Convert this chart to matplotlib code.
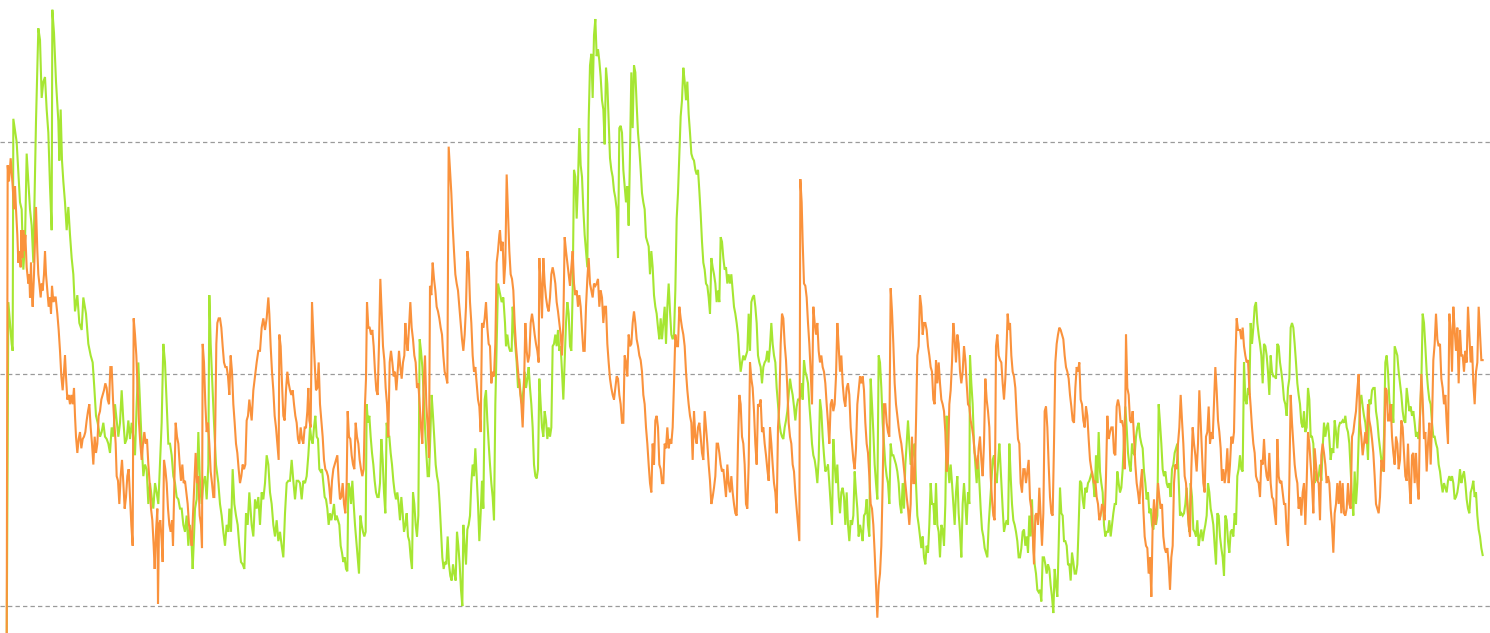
import matplotlib
matplotlib.use("Agg")
import matplotlib.pyplot as plt

# two series, values (time index, level); grid lines sit at 0, 100, 200
green_pts = [
    (20, -20), (25, 131), (30, 122), (35, 113), (38, 110), (40, 210), (50, 200), (60, 174), (65, 171),
    (70, 145), (75, 157), (80, 195), (85, 183), (90, 171), (95, 164), (100, 148), (108, 209), (115, 249),
    (120, 244), (125, 219), (130, 226), (135, 228), (140, 214), (145, 204), (150, 181), (155, 162),
    (157, 257), (162, 247), (168, 226), (175, 209), (178, 192), (182, 214), (186, 192), (190, 183),
    (195, 174), (200, 162), (205, 172), (210, 160), (215, 150), (220, 143), (225, 127), (232, 134),
    (238, 122), (245, 119), (250, 133), (258, 126), (265, 113), (272, 108), (278, 105), (283, 94),
    (288, 82), (293, 79), (300, 73), (305, 75), (310, 79), (315, 73), (320, 72), (325, 70), (330, 66),
    (335, 77), (340, 73), (345, 87), (350, 80), (355, 73), (360, 79), (365, 93), (370, 80), (375, 70),
    (380, 72), (385, 80), (390, 72), (395, 79), (400, 73), (405, 65), (410, 87), (415, 105), (420, 87),
    (425, 70), (430, 56), (435, 61), (440, 59), (445, 44), (450, 53), (455, 47), (460, 42), (465, 53),
    (470, 49), (475, 44), (480, 61), (485, 79), (490, 113), (495, 105), (500, 87), (505, 70), (510, 70),
    (515, 65), (520, 56), (525, 53), (530, 47), (535, 46), (540, 42), (545, 42), (550, 35), (555, 32),
    (560, 39), (565, 26), (570, 35), (575, 26), (578, 16), (582, 30), (585, 42), (590, 46), (595, 75),
    (600, 53), (605, 44), (610, 53), (615, 56), (620, 46), (625, 61), (628, 134), (632, 113), (637, 96),
    (642, 79), (648, 61), (655, 53), (660, 44), (665, 39), (670, 32), (675, 26), (680, 35), (685, 32),
    (688, 42), (693, 32), (698, 59), (703, 44), (708, 39), (713, 35), (718, 26), (723, 19), (728, 18),
    (733, 16), (738, 40), (743, 35), (748, 49),
    (755, 35), (760, 30), (765, 46), (770, 42), (775, 47), (780, 35), (785, 49), (790, 46), (795, 53),
    (800, 65), (805, 61), (810, 49), (815, 44), (820, 35), (825, 30), (830, 37), (835, 28), (840, 32),
    (845, 26), (850, 21), (855, 40), (860, 53), (865, 54), (870, 54), (875, 63), (880, 54), (885, 46),
    (890, 54), (895, 54), (900, 53), (905, 46), (910, 54), (915, 53), (920, 56), (925, 65), (930, 77),
    (934, 72), (938, 70), (942, 77), (946, 82), (950, 73), (954, 72), (958, 59), (962, 58), (966, 59),
    (970, 53), (974, 47), (978, 46), (982, 42), (986, 35), (990, 40), (994, 37), (998, 40), (1002, 44),
    (1006, 37), (1010, 39), (1014, 37), (1018, 35), (1022, 26), (1026, 23), (1030, 19), (1034, 21),
    (1038, 16), (1042, 15), (1045, 53), (1049, 51), (1053, 44), (1057, 54), (1061, 44), (1065, 35),
    (1069, 28), (1073, 21), (1077, 14), (1081, 39), (1085, 35), (1089, 32), (1093, 30), (1097, 32),
    (1100, 87), (1104, 79), (1108, 82), (1112, 73), (1116, 66), (1120, 61), (1124, 54), (1128, 49),
    (1132, 47), (1136, 47), (1140, 53), (1144, 72), (1148, 63), (1152, 49), (1156, 40), (1160, 79),
    (1164, 73), (1168, 73), (1172, 66), (1176, 61), (1180, 54), (1184, 49), (1188, 46), (1192, 49),
    (1196, 44), (1200, 37), (1204, 47), (1208, 40), (1212, 32), (1216, 35), (1220, 40), (1224, 30),
    (1228, 28), (1232, 21), (1236, 16), (1239, 49), (1243, 44), (1247, 35), (1251, 30), (1255, 39),
    (1259, 115), (1263, 110), (1267, 103), (1271, 91), (1275, 77), (1279, 66), (1283, 56), (1287, 56),
    (1291, 73), (1295, 91), (1299, 82), (1303, 72), (1307, 61), (1311, 56), (1315, 53), (1319, 44),
    (1323, 32), (1327, 21), (1331, 16), (1335, 19), (1339, 18), (1343, 30), (1347, 18), (1351, 13),
    (1355, 11), (1359, 18), (1363, 14), (1367, 11), (1371, 32), (1375, 26), (1379, 18), (1383, 7),
    (1387, 0), (1390, 35), (1394, 26), (1398, 18), (1402, 33), (1406, 35), (1410, 39), (1414, 53),
    (1418, 61), (1422, 56), (1426, 68), (1430, 56), (1434, 44), (1438, 28), (1442, 40), (1446, 54),
    (1450, 42), (1454, 89), (1458, 93), (1462, 80), (1466, 70), (1470, 61), (1474, 53), (1478, 47),
    (1482, 37), (1486, 87), (1490, 113), (1494, 139), (1498, 136),
    (1505, 131), (1510, 133), (1515, 122), (1518, 112), (1522, 117), (1526, 112), (1530, 110),
    (1535, 110), (1538, 129), (1542, 119), (1546, 112), (1550, 105), (1554, 94), (1558, 98), (1562, 91),
    (1566, 87), (1570, 93), (1574, 101), (1578, 94), (1582, 98), (1586, 103), (1590, 94), (1594, 87),
    (1598, 77), (1602, 61), (1606, 56), (1610, 55), (1614, 59), (1618, 98), (1622, 87), (1626, 77),
    (1630, 73), (1634, 84), (1638, 80), (1642, 72), (1646, 77), (1650, 73), (1654, 77), (1658, 112),
    (1662, 113), (1666, 117), (1670, 112), (1674, 119), (1678, 110), (1682, 112), (1686, 101),
    (1690, 89), (1694, 105), (1698, 122), (1702, 131), (1706, 126), (1710, 112), (1714, 110),
    (1718, 136), (1722, 188), (1726, 185), (1730, 167), (1734, 183), (1738, 206), (1742, 190),
    (1746, 185), (1750, 171), (1754, 160), (1758, 153), (1762, 146), (1766, 209), (1770, 233),
    (1774, 238), (1778, 219), (1782, 246), (1786, 253), (1790, 237), (1794, 240), (1798, 235),
    (1802, 228), (1806, 218), (1810, 214), (1814, 199), (1818, 232), (1822, 225), (1826, 209),
    (1830, 193), (1834, 188), (1838, 185), (1842, 179), (1846, 176), (1850, 171), (1854, 150),
    (1858, 206), (1862, 207), (1866, 204), (1870, 188), (1874, 181), (1878, 174), (1882, 181),
    (1886, 164), (1890, 195), (1894, 230), (1898, 206), (1902, 233), (1906, 230), (1910, 216),
    (1914, 204), (1918, 197), (1922, 188), (1926, 178), (1930, 174), (1934, 171), (1938, 159),
    (1942, 157), (1946, 155), (1950, 143), (1954, 153), (1958, 146), (1962, 134), (1966, 129),
    (1970, 126), (1974, 120), (1978, 115), (1982, 124), (1986, 115), (1990, 122), (1994, 129),
    (1998, 113), (2002, 129), (2006, 139), (2010, 127), (2014, 117), (2018, 115), (2022, 117),
    (2026, 136), (2030, 167), (2034, 178), (2038, 195), (2042, 211), (2046, 218), (2050, 232),
    (2054, 226), (2058, 218), (2062, 226), (2066, 212), (2070, 204), (2074, 195), (2078, 193),
    (2082, 192), (2086, 188), (2090, 186), (2094, 188), (2098, 179), (2102, 169), (2106, 157),
    (2110, 148), (2114, 145), (2118, 139), (2122, 138), (2126, 133), (2130, 126), (2134, 150),
    (2138, 146), (2142, 143), (2146, 139), (2150, 131), (2154, 136), (2158, 131), (2162, 159),
    (2166, 157), (2170, 150), (2174, 145), (2178, 146), (2182, 139), (2186, 143), (2190, 139),
    (2194, 143), (2198, 136), (2202, 129), (2206, 126), (2210, 122), (2214, 117), (2218, 108),
    (2222, 101), (2226, 105), (2230, 108), (2234, 106), (2238, 108), (2242, 110), (2246, 126),
    (2250, 110), (2254, 131), (2258, 133), (2262, 134), (2266, 129), (2270, 122), (2274, 108),
    (2278, 105), (2282, 103), (2286, 96), (2290, 103), (2294, 105), (2298, 106), (2302, 110),
    (2306, 105), (2310, 112), (2314, 122), (2318, 113), (2322, 108), (2326, 105), (2330, 94),
    (2334, 87), (2338, 79), (2342, 75), (2346, 73), (2350, 72), (2354, 77), (2358, 80), (2362, 84),
    (2366, 91), (2370, 98), (2374, 94), (2378, 91), (2382, 86), (2386, 80), (2390, 86), (2394, 89),
    (2398, 89), (2402, 91), (2406, 96), (2408, 89), (2412, 106), (2416, 101), (2420, 99), (2424, 96),
    (2428, 87), (2432, 79), (2436, 70), (2440, 65), (2444, 63), (2448, 59), (2452, 53), (2456, 63),
    (2460, 89), (2464, 84), (2468, 73), (2472, 65), (2476, 58), (2480, 59), (2484, 61), (2488, 53),
    (2492, 44), (2496, 35), (2500, 72), (2504, 61), (2508, 53), (2512, 61), (2516, 47), (2520, 40),
    (2524, 49), (2528, 51), (2532, 47), (2536, 35), (2540, 49), (2544, 35), (2548, 28), (2552, 37),
    (2556, 35), (2560, 39), (2564, 58), (2568, 49), (2572, 42), (2576, 30), (2580, 35), (2584, 32),
    (2588, 28), (2592, 39), (2596, 40), (2600, 46), (2604, 35), (2608, 30), (2612, 98), (2616, 87),
    (2620, 75), (2624, 61), (2628, 53), (2632, 46), (2636, 108), (2640, 105), (2644, 94), (2648, 79),
    (2652, 70), (2656, 61), (2660, 56), (2664, 53), (2668, 44), (2672, 70), (2676, 65), (2680, 65),
    (2684, 63), (2688, 61), (2692, 58), (2696, 53), (2700, 44), (2704, 40), (2708, 53), (2712, 42),
    (2716, 61), (2720, 70), (2724, 80), (2728, 70), (2732, 61), (2736, 63), (2740, 66), (2744, 70),
    (2748, 53), (2752, 39), (2756, 35), (2760, 30), (2764, 25), (2768, 30), (2772, 21), (2776, 18),
    (2780, 26), (2784, 23), (2788, 35), (2792, 53), (2796, 44), (2800, 44), (2804, 35), (2808, 53),
    (2812, 35), (2816, 32), (2820, 21), (2824, 35), (2828, 33), (2832, 26), (2836, 44), (2840, 82),
    (2844, 61), (2848, 53), (2852, 61), (2856, 53), (2860, 44), (2864, 35), (2868, 49), (2872, 56),
    (2876, 40), (2880, 32), (2884, 21), (2888, 44), (2892, 53), (2896, 44), (2900, 35), (2904, 49),
    (2908, 44), (2910, 108), (2914, 96), (2918, 87), (2922, 70), (2926, 61), (2930, 53), (2934, 65),
    (2938, 53), (2942, 42), (2946, 33), (2950, 30), (2954, 25), (2958, 23), (2962, 21), (2966, 35),
    (2970, 44), (2974, 53), (2978, 63), (2982, 65), (2986, 56), (2990, 53), (2994, 61), (2998, 70),
    (3000, 65), (3004, 53), (3008, 42), (3012, 32), (3016, 35), (3020, 37), (3024, 35), (3028, 70),
    (3032, 56), (3036, 44), (3040, 37), (3044, 35), (3048, 32), (3052, 28), (3056, 21), (3060, 21),
    (3064, 25), (3068, 32), (3072, 33), (3076, 26), (3080, 30), (3084, 23), (3088, 39), (3092, 30),
    (3096, 46), (3100, 26), (3104, 18), (3108, 14), (3112, 7), (3116, 6), (3120, 7), (3124, 2),
    (3128, 21), (3132, 21), (3136, 18), (3140, 14), (3144, 18), (3148, 16), (3152, 9), (3156, 4),
    (3160, -3), (3164, 16), (3168, 9), (3172, 4), (3176, 26), (3180, 51), (3184, 40), (3188, 39),
    (3192, 28), (3196, 28), (3200, 26), (3204, 18), (3208, 18), (3212, 11), (3216, 23), (3220, 19),
    (3224, 14), (3228, 14), (3232, 18), (3236, 35), (3240, 54), (3244, 53), (3248, 46), (3252, 42),
    (3256, 51), (3260, 49), (3264, 53), (3268, 54), (3272, 56), (3276, 58), (3280, 53), (3284, 47),
    (3288, 65), (3292, 53), (3296, 75), (3300, 58), (3304, 53), (3308, 49), (3312, 35), (3316, 30),
    (3320, 32), (3324, 32), (3328, 37), (3332, 30), (3336, 35), (3340, 40), (3344, 44), (3348, 44),
    (3352, 58), (3356, 53), (3360, 49), (3364, 51), (3368, 59), (3372, 73), (3376, 86), (3380, 77),
    (3384, 66), (3388, 61), (3392, 58), (3396, 70), (3400, 66), (3404, 65), (3408, 73), (3412, 77),
    (3416, 79), (3420, 73), (3424, 70), (3428, 68), (3432, 58), (3436, 53), (3440, 46), (3444, 49),
    (3448, 40), (3452, 42), (3456, 35), (3460, 33), (3464, 39), (3468, 35), (3472, 39), (3476, 87),
    (3480, 79), (3484, 70), (3488, 59), (3492, 56), (3496, 58), (3500, 53), (3504, 51), (3508, 53),
    (3512, 47), (3516, 59), (3520, 61), (3524, 66), (3528, 68), (3532, 70), (3536, 54), (3540, 39),
    (3544, 40), (3548, 39), (3552, 40), (3556, 44), (3560, 51), (3564, 39), (3568, 32), (3572, 53),
    (3576, 47), (3580, 33), (3584, 32), (3588, 30), (3592, 37), (3596, 26), (3600, 30), (3604, 33),
    (3608, 28), (3612, 32), (3616, 35), (3620, 39), (3624, 53), (3628, 49), (3632, 42), (3636, 39),
    (3640, 35), (3644, 26), (3648, 18), (3652, 40), (3656, 39), (3660, 30), (3664, 25), (3668, 21),
    (3672, 13), (3676, 39), (3680, 37), (3684, 28), (3688, 23), (3692, 32), (3696, 33), (3700, 30),
    (3704, 40), (3708, 35), (3712, 56), (3716, 59),
    (3720, 65), (3724, 59), (3728, 58), (3732, 105), (3736, 89), (3740, 87), (3744, 94), (3748, 91),
    (3752, 122), (3756, 113), (3760, 120), (3764, 129), (3768, 131), (3772, 122), (3776, 117),
    (3780, 113), (3784, 108), (3788, 96), (3792, 113), (3796, 112), (3800, 108), (3804, 101),
    (3808, 91), (3812, 108), (3816, 101), (3820, 99), (3824, 99), (3828, 98), (3832, 113), (3836, 112),
    (3840, 105), (3844, 101), (3848, 96), (3852, 89), (3856, 87), (3860, 82), (3864, 94), (3868, 98),
    (3872, 120), (3876, 122), (3880, 120), (3884, 113), (3888, 105), (3892, 96), (3896, 91), (3900, 87),
    (3904, 79), (3908, 77), (3912, 84), (3916, 75), (3920, 77), (3924, 94), (3928, 89), (3932, 73),
    (3936, 73), (3940, 70), (3944, 53), (3948, 58), (3952, 54), (3956, 56), (3960, 61), (3964, 54),
    (3968, 68), (3972, 79), (3976, 73), (3980, 77), (3984, 79), (3988, 72), (3992, 63), (3996, 68),
    (4000, 66), (4004, 80), (4008, 75), (4012, 68), (4016, 77), (4020, 79), (4024, 79), (4028, 80),
    (4032, 79), (4036, 82), (4040, 77), (4044, 75), (4048, 70), (4052, 58), (4056, 47), (4060, 39),
    (4064, 58), (4068, 44), (4072, 53), (4076, 72), (4080, 87), (4084, 91), (4088, 86), (4092, 82),
    (4096, 79), (4100, 73), (4104, 63), (4108, 89), (4112, 87), (4116, 93), (4120, 94), (4124, 94),
    (4128, 84), (4132, 80), (4136, 73), (4140, 68), (4144, 63), (4148, 58), (4152, 73), (4156, 105),
    (4160, 108), (4164, 101), (4168, 89), (4172, 82), (4176, 87), (4180, 79), (4184, 112), (4188, 110),
    (4192, 108), (4196, 101), (4200, 96), (4204, 91), (4208, 84), (4212, 80), (4216, 79), (4220, 94),
    (4224, 89), (4228, 84), (4232, 86), (4236, 82), (4240, 84), (4244, 79), (4248, 73), (4252, 75),
    (4256, 72), (4260, 82), (4264, 96), (4268, 126), (4272, 122), (4276, 112), (4280, 101), (4284, 94),
    (4288, 89), (4292, 87), (4296, 79), (4300, 73), (4304, 73), (4308, 70), (4312, 68), (4316, 61),
    (4320, 58), (4324, 53), (4328, 49), (4332, 53), (4336, 51), (4340, 49), (4344, 54), (4348, 56),
    (4352, 54), (4356, 56), (4360, 53), (4364, 46), (4368, 47), (4372, 49), (4376, 53), (4380, 59),
    (4384, 53), (4388, 56), (4392, 58), (4396, 53), (4400, 46), (4404, 42), (4408, 40), (4412, 49),
    (4416, 51), (4420, 54), (4424, 47), (4428, 49), (4432, 39), (4436, 33), (4440, 30), (4444, 25),
    (4448, 22),
]

orange_pts = [
    (20, -20), (23, 190), (27, 183), (32, 193), (38, 181), (42, 171), (45, 181), (48, 171), (52, 160),
    (55, 148), (58, 153), (62, 146), (64, 162), (67, 150), (70, 162), (73, 153), (76, 160), (80, 146),
    (85, 139), (88, 143), (90, 133), (93, 148), (95, 136), (98, 129), (102, 143), (105, 157), (108, 172),
    (112, 153), (115, 143), (118, 139), (122, 133), (125, 139), (128, 136), (132, 143), (135, 153),
    (138, 143), (142, 136), (146, 129), (150, 133), (153, 126), (156, 138), (160, 131), (163, 133),
    (167, 133), (172, 126), (176, 119), (180, 110), (184, 99), (188, 93), (192, 101), (195, 108),
    (198, 99), (202, 89), (206, 91), (210, 87), (214, 91), (218, 87), (222, 94), (225, 82), (228, 73),
    (232, 66), (236, 72), (240, 75), (244, 68), (248, 72), (252, 73), (256, 75), (260, 80), (264, 84),
    (268, 87), (272, 77), (276, 70), (280, 61), (284, 73), (288, 66), (292, 70), (296, 82), (300, 84),
    (304, 89), (308, 91), (312, 93), (316, 96), (320, 94), (323, 89), (327, 87), (331, 103), (335, 103),
    (339, 89), (343, 79), (347, 70), (350, 56), (354, 54), (358, 44), (362, 56), (366, 63), (370, 53),
    (374, 42), (378, 47), (382, 56), (386, 59), (390, 47), (394, 35), (398, 26), (401, 124), (405, 117),
    (409, 108), (413, 94), (417, 79), (421, 70), (425, 63), (429, 70), (433, 75), (437, 70), (441, 72),
    (445, 61), (449, 53), (453, 42), (457, 37), (461, 26), (464, 16), (468, 32), (472, 42), (474, 1),
    (477, 35), (481, 37), (485, 28), (488, 19), (492, 63), (496, 59), (500, 53), (504, 42), (508, 35),
    (512, 32), (516, 37), (519, 26), (523, 53), (527, 79), (531, 73), (535, 70), (539, 61), (543, 54),
    (547, 61), (551, 53), (555, 54), (559, 49), (563, 44), (567, 35), (571, 32), (575, 26), (579, 39),
    (583, 53), (587, 66), (591, 53), (595, 56), (599, 39), (603, 35), (606, 25), (608, 113), (612, 105),
    (616, 87), (620, 75), (624, 79), (628, 70), (632, 58), (636, 53), (640, 47), (643, 47), (646, 79),
    (649, 113), (652, 122), (656, 124), (660, 124), (664, 120), (668, 112), (672, 105), (676, 103),
    (680, 103), (684, 99), (688, 91), (692, 108), (696, 101), (700, 87), (704, 79), (708, 70),
    (712, 66), (716, 59), (720, 53), (724, 56), (728, 61), (732, 59), (736, 61), (740, 80), (744, 82),
    (748, 89),
    (755, 80), (760, 93), (765, 99), (770, 105), (775, 110), (780, 110), (785, 120), (790, 124),
    (795, 119), (800, 124), (805, 133), (808, 126), (812, 112), (816, 101), (820, 93), (824, 82),
    (828, 77), (832, 70), (836, 63), (838, 117), (842, 112), (846, 96), (850, 82), (854, 80), (858, 93),
    (862, 101), (866, 96), (870, 93), (874, 91), (878, 93), (882, 87), (886, 82), (890, 79), (894, 72),
    (898, 70), (902, 77), (906, 72), (910, 70), (914, 77), (918, 77), (922, 84), (925, 94), (928, 80),
    (932, 77), (936, 131), (940, 117), (944, 105), (948, 93), (952, 94), (956, 105), (960, 87),
    (964, 80), (968, 73), (972, 63), (976, 59), (980, 58), (984, 56), (988, 51), (992, 44), (996, 54),
    (1000, 59), (1004, 61), (1008, 63), (1012, 65), (1016, 54), (1020, 46), (1024, 47), (1028, 53),
    (1032, 44), (1036, 40), (1040, 53), (1043, 84), (1047, 73), (1051, 72), (1055, 65), (1059, 61),
    (1063, 59), (1067, 79), (1071, 73), (1075, 70), (1079, 63), (1083, 59), (1087, 56), (1091, 59),
    (1095, 87), (1098, 98), (1101, 131), (1105, 120), (1109, 120), (1113, 117), (1117, 119),
    (1121, 112), (1125, 101), (1129, 93), (1133, 91), (1137, 113), (1141, 141), (1145, 126),
    (1149, 112), (1153, 106), (1157, 94), (1161, 87), (1165, 73), (1169, 105), (1173, 110),
    (1177, 105), (1181, 99), (1185, 101), (1189, 93), (1193, 101), (1197, 110), (1201, 103),
    (1205, 98), (1209, 105), (1213, 108), (1216, 122), (1219, 115), (1223, 110), (1227, 120),
    (1231, 131), (1235, 120), (1239, 115), (1243, 108), (1247, 105), (1251, 94), (1255, 96),
    (1259, 87), (1263, 77), (1267, 70), (1271, 96), (1275, 108), (1279, 87), (1283, 77), (1287, 64),
    (1290, 138), (1294, 134), (1298, 148), (1302, 141), (1306, 136), (1310, 129), (1314, 127),
    (1318, 124), (1322, 120), (1326, 117), (1330, 108), (1334, 101), (1338, 99), (1342, 96),
    (1346, 198), (1350, 188), (1354, 178), (1358, 164), (1362, 153), (1366, 143), (1370, 139),
    (1374, 136), (1378, 129), (1382, 122), (1386, 115), (1390, 110), (1394, 117), (1398, 129),
    (1402, 153), (1406, 148), (1410, 131), (1414, 122), (1418, 108), (1422, 101), (1426, 103),
    (1430, 96), (1434, 89), (1438, 86), (1442, 75), (1446, 122), (1450, 120), (1454, 124), (1458, 131),
    (1462, 120), (1466, 113), (1470, 112), (1474, 96), (1478, 101), (1482, 99), (1486, 113),
    (1490, 148), (1494, 153), (1498, 160),
    (1500, 162), (1504, 153), (1508, 157), (1512, 139), (1516, 148), (1520, 186), (1524, 169),
    (1528, 153), (1532, 143), (1536, 141), (1540, 136), (1544, 122), (1548, 112), (1552, 105),
    (1556, 98), (1560, 93), (1564, 87), (1568, 77), (1572, 94), (1576, 122), (1580, 110), (1584, 105),
    (1588, 108), (1592, 122), (1596, 126), (1600, 122), (1604, 117), (1608, 113), (1612, 110),
    (1616, 105), (1618, 150), (1622, 139), (1626, 124), (1630, 150), (1634, 139), (1638, 133),
    (1642, 129), (1646, 127), (1650, 133), (1654, 143), (1658, 146), (1662, 143), (1666, 139),
    (1670, 131), (1674, 127), (1678, 122), (1682, 117), (1686, 108), (1690, 122), (1694, 159),
    (1698, 153), (1702, 148), (1706, 143), (1710, 138), (1714, 146), (1718, 153), (1722, 139),
    (1726, 134), (1730, 136), (1734, 129), (1738, 134), (1742, 129), (1746, 119), (1750, 110),
    (1754, 110), (1758, 129), (1762, 141), (1766, 150), (1770, 139), (1774, 136), (1778, 133),
    (1782, 139), (1786, 138), (1790, 139), (1794, 141), (1798, 129), (1802, 136), (1806, 133),
    (1810, 122), (1814, 129), (1818, 129), (1822, 113), (1826, 105), (1830, 98), (1834, 94), (1838, 91),
    (1842, 89), (1846, 94), (1850, 99), (1854, 98), (1858, 91), (1862, 87), (1866, 79), (1870, 79),
    (1874, 108), (1878, 105), (1882, 99), (1886, 117), (1890, 112), (1894, 113), (1898, 122),
    (1902, 127), (1906, 122), (1910, 115), (1914, 112), (1918, 108), (1922, 106), (1926, 101),
    (1930, 91), (1934, 87), (1938, 77), (1942, 70), (1946, 61), (1950, 53), (1954, 49), (1958, 70),
    (1962, 61), (1966, 80), (1970, 82), (1974, 77), (1978, 61), (1982, 59), (1986, 53), (1990, 53),
    (1994, 70), (1998, 68), (2002, 77), (2006, 68), (2010, 72), (2014, 70), (2018, 77), (2022, 96),
    (2026, 117), (2030, 112), (2034, 112), (2038, 129), (2042, 124), (2046, 120), (2050, 117),
    (2054, 112), (2058, 101), (2062, 93), (2066, 87), (2070, 82), (2074, 79), (2078, 63), (2082, 84),
    (2086, 73), (2090, 70), (2094, 77), (2098, 79), (2102, 73), (2106, 66), (2110, 63), (2114, 84),
    (2118, 77), (2122, 70), (2126, 61), (2130, 54), (2134, 44), (2138, 47), (2142, 51), (2146, 56),
    (2150, 70), (2154, 70), (2158, 66), (2162, 61), (2166, 58), (2170, 59), (2174, 53), (2178, 47),
    (2182, 61), (2186, 53), (2190, 49), (2194, 56), (2198, 49), (2202, 44), (2206, 40), (2210, 39),
    (2214, 70), (2218, 91), (2222, 87), (2226, 73), (2230, 70), (2234, 61), (2238, 44), (2242, 42),
    (2246, 61), (2250, 105), (2254, 98), (2258, 94), (2262, 84), (2266, 70), (2270, 61), (2274, 87),
    (2278, 86), (2282, 89), (2286, 75), (2290, 77), (2294, 70), (2298, 65), (2302, 59), (2306, 54),
    (2310, 77), (2314, 70), (2318, 61), (2322, 53), (2326, 49), (2330, 40), (2334, 77), (2338, 87),
    (2342, 113), (2346, 126), (2350, 124), (2354, 113), (2358, 106), (2362, 94), (2366, 79), (2370, 73),
    (2374, 70), (2378, 61), (2382, 58), (2386, 49), (2390, 42), (2394, 35), (2398, 28), (2401, 184),
    (2405, 174), (2408, 157), (2412, 139), (2416, 138), (2420, 133), (2424, 122), (2428, 113),
    (2432, 101), (2436, 87), (2440, 129), (2444, 122), (2448, 117), (2452, 122), (2456, 110),
    (2460, 105), (2464, 108), (2468, 103), (2472, 101), (2476, 96), (2480, 87), (2484, 79), (2488, 70),
    (2492, 87), (2496, 89), (2500, 84), (2504, 87), (2508, 99), (2512, 122), (2516, 112), (2520, 101),
    (2524, 108), (2528, 96), (2532, 89), (2536, 86), (2540, 94), (2544, 96), (2548, 91), (2552, 77),
    (2556, 70), (2560, 63), (2564, 59), (2568, 68), (2572, 87), (2576, 93), (2580, 99), (2584, 96),
    (2588, 99), (2592, 93), (2596, 79), (2600, 70), (2604, 66), (2608, 56), (2612, 44), (2616, 42),
    (2620, 35), (2624, 23), (2628, 9), (2632, -5), (2636, 9), (2640, 14), (2644, 26), (2648, 53),
    (2652, 87), (2656, 87), (2660, 79), (2664, 75), (2668, 73), (2672, 137), (2676, 127), (2680, 113),
    (2684, 96), (2688, 87), (2692, 82), (2696, 77), (2700, 73), (2704, 70), (2708, 65), (2712, 59),
    (2716, 53), (2720, 47), (2724, 42), (2728, 35), (2732, 44), (2736, 73), (2740, 53), (2744, 53),
    (2748, 79), (2752, 108), (2756, 112), (2760, 134), (2764, 129), (2768, 117), (2772, 122),
    (2776, 122), (2780, 119), (2784, 112), (2788, 108), (2792, 103), (2796, 101), (2800, 89),
    (2804, 87), (2808, 106), (2812, 96), (2816, 105), (2820, 96), (2824, 89), (2828, 87), (2832, 84),
    (2836, 75), (2840, 58), (2844, 63), (2848, 87), (2852, 93), (2856, 105), (2860, 122), (2864, 115),
    (2868, 105), (2872, 117), (2876, 113), (2880, 101), (2884, 96), (2888, 101), (2892, 112),
    (2896, 106), (2900, 96), (2904, 87), (2908, 86), (2912, 80), (2916, 77), (2920, 73), (2924, 66),
    (2928, 63), (2932, 59), (2936, 68), (2940, 73), (2944, 63), (2948, 56), (2952, 70), (2956, 98),
    (2960, 89), (2964, 84), (2968, 77), (2972, 56), (2976, 46), (2980, 39), (2984, 37), (2988, 112),
    (2992, 117), (2996, 108), (3000, 106), (3004, 105), (3008, 96), (3012, 89), (3016, 98), (3020, 113),
    (3023, 126), (3027, 119), (3030, 122), (3034, 108), (3038, 101), (3042, 99), (3046, 94), (3050, 82),
    (3054, 72), (3058, 70), (3062, 53), (3066, 49), (3070, 59), (3074, 59), (3078, 53), (3082, 58),
    (3086, 63), (3090, 46), (3094, 42), (3098, 32), (3102, 18), (3106, 39), (3110, 40), (3114, 35),
    (3118, 51), (3122, 39), (3126, 26), (3130, 40), (3134, 84), (3138, 86), (3142, 77), (3146, 61),
    (3150, 47), (3154, 40), (3158, 39), (3162, 70), (3166, 105), (3170, 113), (3174, 117), (3178, 120),
    (3182, 119), (3186, 117), (3190, 115), (3194, 108), (3198, 103), (3202, 101), (3206, 98),
    (3210, 91), (3214, 86), (3218, 80), (3222, 79), (3226, 94), (3230, 103), (3234, 101), (3238, 105),
    (3242, 89), (3246, 87), (3250, 80), (3254, 77), (3258, 86), (3262, 82), (3266, 72), (3270, 63),
    (3274, 59), (3278, 56), (3282, 53), (3286, 54), (3290, 47), (3294, 44), (3298, 37), (3302, 39),
    (3306, 44), (3310, 42), (3314, 37), (3318, 56), (3322, 82), (3326, 72), (3330, 75), (3334, 77),
    (3338, 77), (3342, 66), (3346, 65), (3350, 86), (3354, 89), (3358, 86), (3362, 79), (3366, 80),
    (3370, 77), (3374, 59), (3378, 117), (3382, 94), (3386, 91), (3390, 80), (3394, 79), (3398, 84),
    (3402, 72), (3406, 61), (3410, 53), (3414, 49), (3418, 44), (3422, 53), (3426, 59), (3430, 42),
    (3434, 30), (3438, 26), (3442, 25), (3446, 14), (3450, 21), (3454, 4), (3458, 35), (3462, 46),
    (3466, 35), (3470, 42), (3474, 53), (3478, 47), (3482, 42), (3486, 44), (3490, 30), (3494, 25),
    (3498, 23), (3502, 25), (3506, 18), (3510, 7), (3514, 21), (3518, 26), (3522, 53), (3526, 61),
    (3530, 59), (3534, 70), (3538, 77), (3542, 91), (3546, 80), (3550, 70), (3554, 56), (3558, 53),
    (3562, 44), (3566, 35), (3570, 30), (3574, 59), (3578, 77), (3582, 70), (3586, 65), (3590, 58),
    (3594, 70), (3598, 93), (3602, 79), (3606, 66), (3610, 53), (3614, 49), (3618, 73), (3622, 75),
    (3626, 86), (3630, 70), (3634, 75), (3638, 72), (3642, 87), (3646, 103), (3650, 93), (3654, 80),
    (3658, 75), (3662, 68), (3666, 54), (3670, 59), (3674, 53), (3678, 58), (3682, 68), (3686, 53),
    (3690, 61), (3694, 73), (3698, 70), (3702, 75), (3706, 105), (3710, 124), (3714, 119),
    (3720, 119), (3724, 115), (3728, 120), (3732, 112), (3736, 108), (3740, 105), (3744, 106),
    (3748, 94), (3752, 86), (3756, 77), (3760, 70), (3764, 66), (3768, 56), (3772, 54), (3776, 53),
    (3780, 47), (3784, 63), (3788, 61), (3792, 72), (3796, 61), (3800, 56), (3804, 54), (3808, 66),
    (3812, 53), (3816, 47), (3820, 46), (3824, 40), (3828, 35), (3832, 72), (3836, 56), (3840, 53),
    (3844, 54), (3848, 49), (3852, 44), (3856, 44), (3860, 32), (3864, 26), (3868, 53), (3872, 91),
    (3876, 79), (3880, 70), (3884, 61), (3888, 56), (3892, 53), (3896, 42), (3900, 47), (3904, 39),
    (3908, 49), (3912, 53), (3916, 35), (3920, 53), (3924, 75), (3928, 70), (3932, 61), (3936, 53),
    (3940, 40), (3944, 68), (3948, 61), (3952, 54), (3956, 53), (3960, 37), (3964, 65), (3968, 70),
    (3972, 66), (3976, 61), (3980, 53), (3984, 56), (3988, 53), (3992, 42), (3996, 35), (4000, 23),
    (4004, 40), (4008, 44), (4012, 53), (4016, 44), (4020, 54), (4024, 40), (4028, 53), (4032, 40),
    (4036, 39), (4040, 42), (4044, 53), (4048, 44), (4052, 42), (4056, 73), (4060, 75), (4064, 80),
    (4068, 84), (4072, 93), (4076, 100), (4080, 79), (4084, 73), (4088, 65), (4092, 70), (4096, 75),
    (4100, 70), (4104, 87), (4108, 80), (4112, 77), (4116, 72), (4120, 66), (4124, 56), (4128, 44),
    (4132, 42), (4136, 40), (4140, 47), (4144, 63), (4148, 61), (4152, 58), (4156, 94), (4160, 93),
    (4164, 80), (4168, 80), (4172, 87), (4176, 73), (4180, 66), (4184, 61), (4188, 73), (4192, 70),
    (4196, 59), (4200, 63), (4204, 80), (4208, 77), (4212, 66), (4216, 56), (4220, 54), (4224, 70),
    (4228, 53), (4232, 44), (4236, 65), (4240, 66), (4244, 53), (4248, 66), (4252, 53), (4256, 46),
    (4260, 82), (4264, 100), (4268, 89), (4272, 72), (4276, 75), (4280, 58), (4284, 70), (4288, 79),
    (4292, 61), (4296, 79), (4300, 106), (4304, 113), (4308, 126), (4312, 115), (4316, 112),
    (4320, 113), (4324, 98), (4328, 94), (4332, 87), (4336, 91), (4340, 79), (4344, 70), (4348, 126),
    (4352, 119), (4356, 101), (4360, 129), (4364, 119), (4368, 110), (4372, 120), (4376, 96),
    (4380, 119), (4384, 108), (4388, 108), (4392, 101), (4396, 110), (4400, 105), (4404, 129),
    (4408, 117), (4412, 105), (4416, 112), (4420, 96), (4424, 87), (4428, 101), (4432, 105),
    (4436, 129), (4440, 117), (4444, 106), (4448, 106),
]

grid_levels = [0, 100, 200]

GREEN = "#a6e632"
ORANGE = "#fa923c"

green_t, green_v = zip(*green_pts)
orange_t, orange_v = zip(*orange_pts)

fig = plt.figure(figsize=(14.9, 6.33), dpi=100)
ax = fig.add_axes([0, 0, 1, 1])

ax.plot(green_t, green_v, color=GREEN, lw=1.5, solid_joinstyle="miter")
ax.plot(orange_t, orange_v, color=ORANGE, lw=1.5, solid_joinstyle="miter")

ax.set_xlim(0, 4470)
ax.set_ylim(-11.6, 261.2)
ax.set_yticks(grid_levels)
ax.set_xticks([])
ax.tick_params(left=False, labelleft=False)
ax.grid(axis="y", color="#9a9a9a", lw=0.9, linestyle=(0, (3.5, 2.5)))
ax.set_axisbelow(True)
for s in ax.spines.values():
    s.set_visible(False)

fig.savefig("out.png", dpi=100, facecolor="white")
